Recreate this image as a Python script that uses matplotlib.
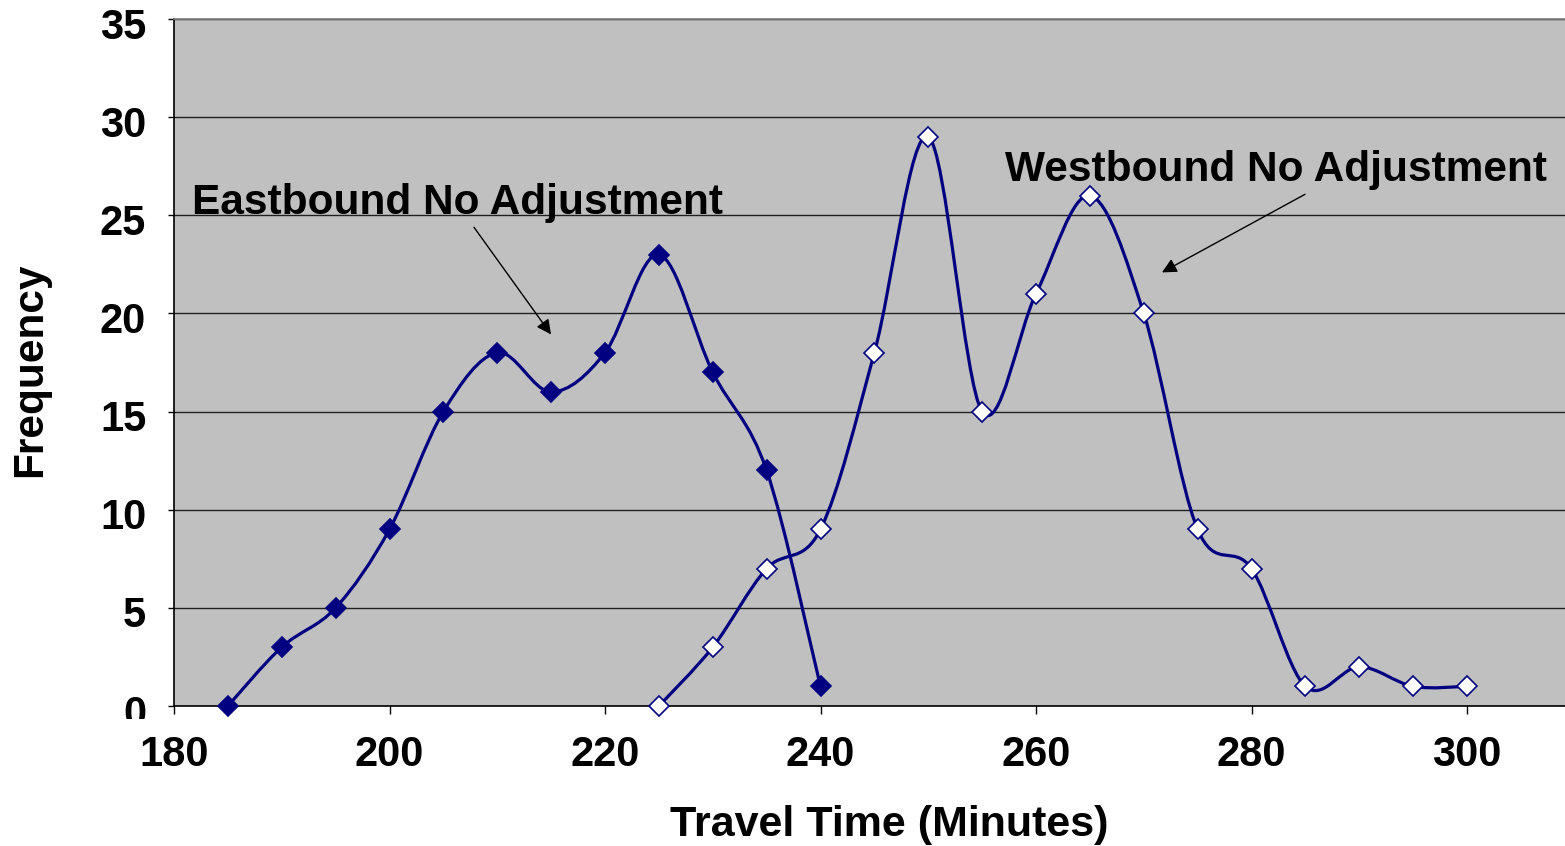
import numpy as np
import matplotlib
matplotlib.use("Agg")
import matplotlib.pyplot as plt
from matplotlib.path import Path
from matplotlib.patches import PathPatch
from matplotlib.transforms import ScaledTranslation, Bbox

plt.rcParams['font.family'] = ['Liberation Sans', 'DejaVu Sans']
plt.rcParams['font.weight'] = 'bold'

east_x = [185, 190, 195, 200, 205, 210, 215, 220, 225, 230, 235, 240]
east_y = [0, 3, 5, 9, 15, 18, 16, 18, 23, 17, 12, 1]
west_x = [225, 230, 235, 240, 245, 250, 255, 260, 265, 270, 275, 280, 285, 290, 295, 300]
west_y = [0, 3, 7, 9, 18, 29, 15, 21, 26, 20, 9, 7, 1, 2, 1, 1]
x_ticks = [180, 200, 220, 240, 260, 280, 300]
y_ticks = [0, 5, 10, 15, 20, 25, 30, 35]

NAVY = '#000080'
W, H = 1565, 846
fig = plt.figure(figsize=(W / 100, H / 100), dpi=100)
ax_left, ax_bottom, ax_top = 174, 706, 19
ax_w = 130 * 215.5 / 20
ax = fig.add_axes([ax_left / W, (H - ax_bottom) / H, ax_w / W, (ax_bottom - ax_top) / H])
ax.set_facecolor('#C0C0C0')
ax.set_xlim(180, 310)
ax.set_ylim(0, 35)


def smooth_path(xs, ys):
    pts = np.column_stack([xs, ys]).astype(float)
    n = len(pts)
    verts = [pts[0]]
    codes = [Path.MOVETO]
    for i in range(n - 1):
        p0 = pts[i - 1] if i > 0 else pts[i]
        p1 = pts[i]
        p2 = pts[i + 1]
        p3 = pts[i + 2] if i + 2 < n else pts[i + 1]
        c1 = p1 + (p2 - p0) / 6.0
        c2 = p2 - (p3 - p1) / 6.0
        verts += [c1, c2, p2]
        codes += [Path.CURVE4] * 3
    return Path(verts, codes)


for xs, ys, fc in [(east_x, east_y, NAVY), (west_x, west_y, 'white')]:
    ax.add_patch(PathPatch(smooth_path(xs, ys), facecolor='none', edgecolor=NAVY,
                           lw=2.3, zorder=3, capstyle='round', joinstyle='round'))
    ax.plot(xs, ys, linestyle='none', marker='D', markersize=10.5,
            markerfacecolor=fc, markeredgecolor=NAVY, markeredgewidth=1.2,
            zorder=4, clip_on=False)

ax.set_xticks(x_ticks)
ax.set_yticks(y_ticks)
ax.yaxis.grid(True, color='#202020', lw=1.0)
ax.set_axisbelow(True)
ax.tick_params(axis='x', length=6, width=1, labelsize=30, pad=15, direction='out')
ax.tick_params(axis='y', length=4, width=1, labelsize=30, pad=16, direction='out')
for lab in ax.get_yticklabels():
    lab.set_transform(lab.get_transform() + ScaledTranslation(0, -0.04, fig.dpi_scale_trans))
ylabs = ax.get_yticklabels()
ylabs[0].set_clip_box(Bbox([[0, H - 719], [W, H]]))
ylabs[0].set_clip_on(True)
for s in ['left', 'bottom']:
    ax.spines[s].set_color('black')
    ax.spines[s].set_linewidth(1.2)
ax.spines['top'].set_color('#808080')
ax.spines['top'].set_linewidth(1.2)
ax.spines['right'].set_visible(False)

fig.text(889 / W, 1 - 825 / H, 'Travel Time (Minutes)', fontsize=31,
         fontweight='bold', ha='center', va='center')
fig.text(30 / W, 1 - 370 / H, 'Frequency', fontsize=30.5, fontweight='bold',
         ha='center', va='center', rotation=90)

ax.text(181.67, 25.05, 'Eastbound No Adjustment', fontsize=30.5, fontweight='bold',
        ha='left', va='baseline')
ax.text(257.1, 26.73, 'Westbound No Adjustment', fontsize=30.5, fontweight='bold',
        ha='left', va='baseline')
arrow = dict(arrowstyle='-|>', color='black', lw=1.0, mutation_scale=22,
             shrinkA=0, shrinkB=0)
ax.annotate('', xy=(214.99, 18.93), xytext=(207.84, 24.39), arrowprops=arrow)
ax.annotate('', xy=(271.69, 22.09), xytext=(284.97, 26.07), arrowprops=arrow)

fig.savefig('out.png', dpi=100, facecolor='white')
